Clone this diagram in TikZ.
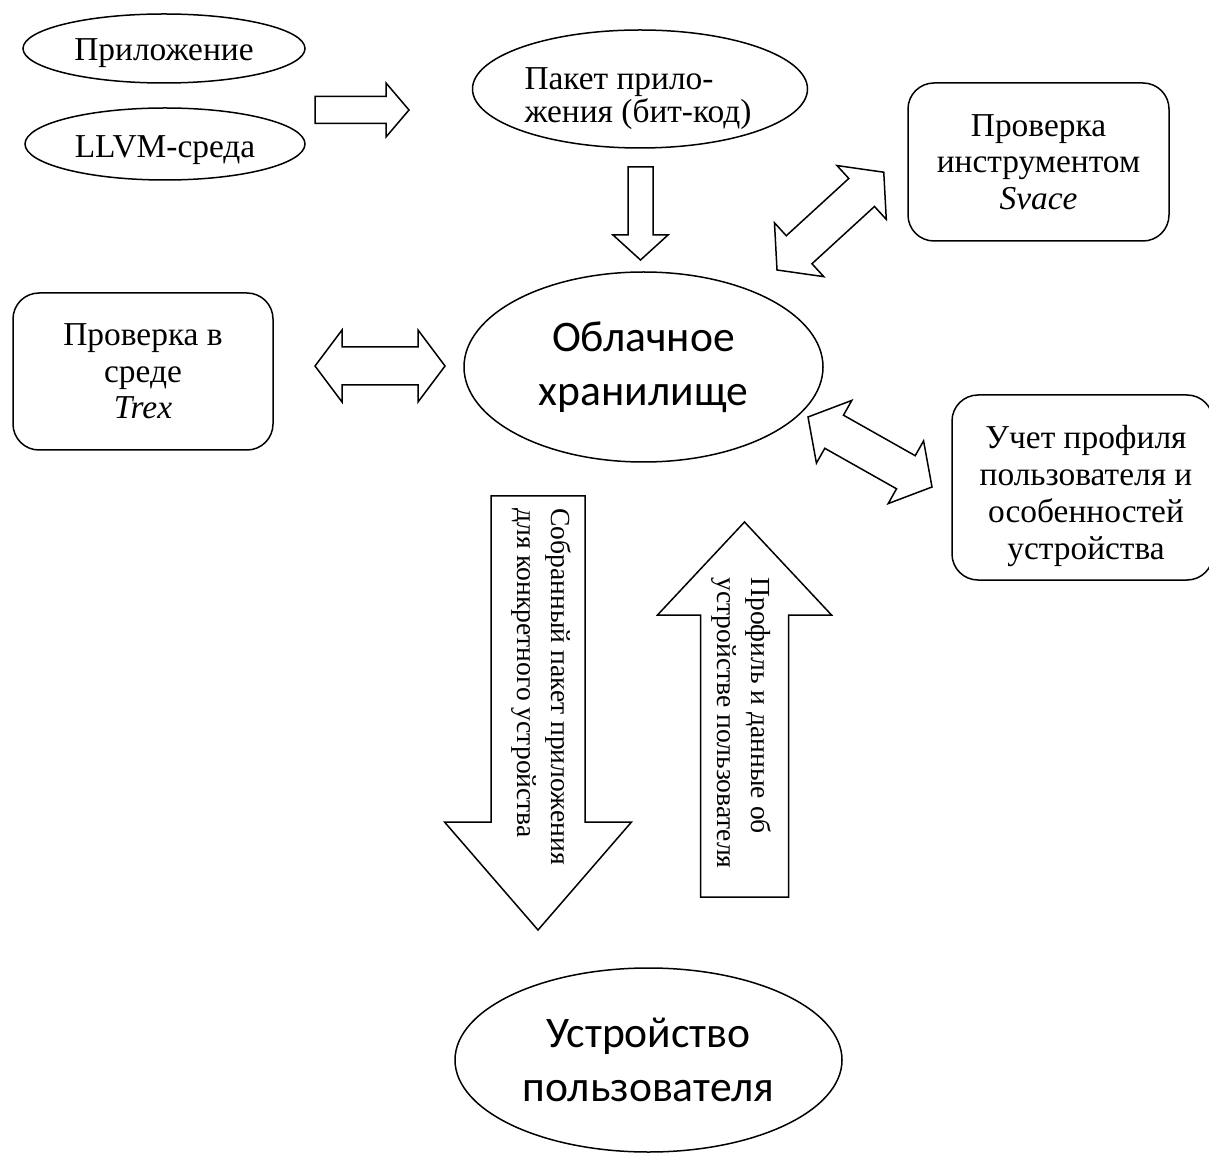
\documentclass[tikz,border=0pt]{standalone}
\usepackage{fontspec}
\setmainfont{Liberation Serif}
\newfontfamily\calib{Carlito}
\usetikzlibrary{calc,shapes.geometric}
\tikzset{
  blk/.style={draw=black, line width=0.75pt, line join=miter, fill=white},
  oval/.style={ellipse, draw=black, line width=0.75pt, inner sep=0pt},
  bigoval/.style={ellipse, draw=black, line width=0.75pt, inner sep=0pt, align=center,
    font=\calib\fontsize{21.8}{27}\selectfont},
  rbox/.style={rectangle, rounded corners=13pt, draw=black, line width=0.75pt, inner sep=0pt,
    align=center, font=\fontsize{16.7}{18.3}\selectfont},
  txt/.style={inner sep=0pt, align=center, font=\fontsize{16.7}{18.3}\selectfont},
  vtext/.style={rotate=-90, anchor=base west, inner sep=0pt, font=\fontsize{13.8}{16}\selectfont}
}
% double block arrow between two named points; #3 half head, #4 head length, #5 half shaft (pt)
\newcommand\dblblock[5]{%
  \draw[blk] let \p1=(#1), \p2=(#2), \n1={atan2(\y2-\y1,\x2-\x1)}, \n2={veclen(\x2-\x1,\y2-\y1)} in
    [shift={(\p1)}, rotate=\n1]
    (0pt,0pt) -- (#4pt,#3pt) -- (#4pt,#5pt) -- ({\n2-#4pt},#5pt) -- ({\n2-#4pt},#3pt)
    -- ({\n2-0pt},0pt) -- ({\n2-#4pt},-#3pt) -- ({\n2-#4pt},-#5pt) -- (#4pt,-#5pt) -- (#4pt,-#3pt) -- cycle;}
% single block arrow from #1 (tail) to #2 (tip)
\newcommand\oneblock[5]{%
  \draw[blk] let \p1=(#1), \p2=(#2), \n1={atan2(\y2-\y1,\x2-\x1)}, \n2={veclen(\x2-\x1,\y2-\y1)} in
    [shift={(\p1)}, rotate=\n1]
    (0pt,#5pt) -- ({\n2-#4pt},#5pt) -- ({\n2-#4pt},#3pt) -- ({\n2-0pt},0pt)
    -- ({\n2-#4pt},-#3pt) -- ({\n2-#4pt},-#5pt) -- (0pt,-#5pt) -- cycle;}
\begin{document}
\begin{tikzpicture}[x=0.5pt, y=-0.5pt]
\useasboundingbox[fill=white] (0,0) rectangle (1209,1154);

% ovals
\node[oval, minimum width=141pt, minimum height=34.5pt] (app) at (164,48.5) {};
\node[txt] (appT) at (app.center) [yshift=-2.5pt] {Приложение};
\node[oval, minimum width=140pt, minimum height=36pt] (llvm) at (165,144) {};
\node[txt] (llvmT) at (llvm.center) [yshift=-3pt] {LLVM-среда};
\node[oval, minimum width=167.5pt, minimum height=59pt] (pkg) at (640,89) {};
\node[txt, align=left, font=\fontsize{16.7}{16.6}\selectfont] (pkgT) at (638,99)
  {Пакет прило-\\жения (бит-код)};
\node[bigoval, minimum width=179.5pt, minimum height=95pt] (cloud) at (643.5,367)
  {Облачное\\хранилище};
\node[bigoval, minimum width=193.5pt, minimum height=92pt] (dev) at (648.5,1060)
  {Устройство\\пользователя};

% boxes
\node[rbox, minimum width=130.5pt, minimum height=79pt] (svace) at (1038.5,162)
  {Проверка\\инструментом\\\textit{Svace}};
\node[rbox, minimum width=130pt, minimum height=78.5pt] (trex) at (143,371.5)
  {Проверка в\\среде\\\textit{Trex}};
\node[rbox, minimum width=130.5pt, minimum height=92.5pt] (prof) at (1082.5,487.5) {};
\node[txt, font=\fontsize{16.7}{18.6}\selectfont] (profT) at (1086,496)
  {Учет профиля\\пользователя и\\особенностей\\устройства};

% arrow end points
\coordinate (r1) at (315,110);   \coordinate (r2) at (409,110);
\coordinate (d1) at (640.5,167); \coordinate (d2) at (640.5,260);
\coordinate (h1) at (315,366);   \coordinate (h2) at (445,366);
\coordinate (s1) at (777,270);   \coordinate (s2) at (884,172);
\coordinate (p1) at (808,417);   \coordinate (p2) at (932,487);
\coordinate (bd1) at (538,496);  \coordinate (bd2) at (538,930);
\coordinate (bu1) at (744.5,897);\coordinate (bu2) at (744.5,522);

\oneblock{r1}{r2}{13.5}{11.5}{6.75}
\oneblock{d1}{d2}{13.75}{12.5}{6.25}
\dblblock{h1}{h2}{18}{13.5}{9.5}
\dblblock{s1}{s2}{18.25}{15}{9.5}
\dblblock{p1}{p2}{18}{15}{9.5}
\oneblock{bd1}{bd2}{46.75}{54}{23.5}
\oneblock{bu1}{bu2}{43.5}{46.5}{22}

% texts in the big arrows
\node[vtext] (bdt1) at (551,508) {Собранный пакет приложения};
\node[vtext] (bdt2) at (517,508) {для конкретного устройства};
\node[vtext] (but1) at (751,577) {Профиль и данные об};
\node[vtext] (but2) at (717,577) {устройстве пользователя};
\end{tikzpicture}
\end{document}
